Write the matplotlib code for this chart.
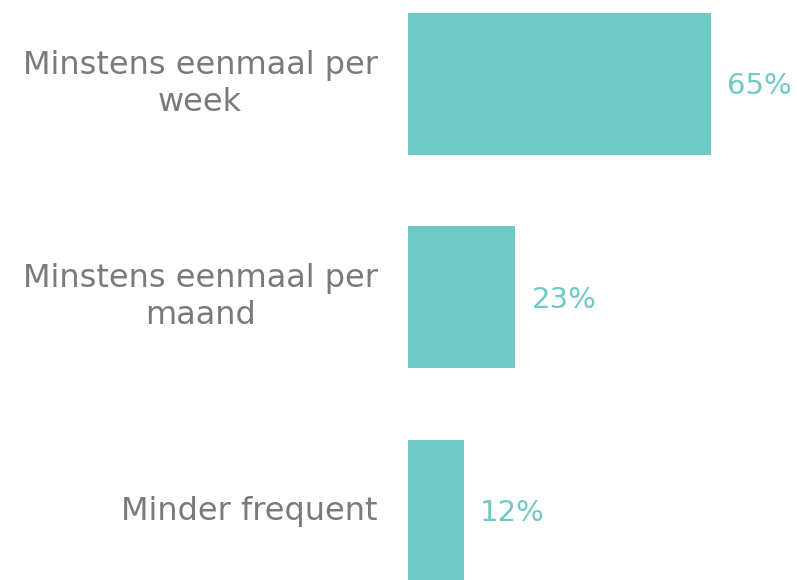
import matplotlib.pyplot as plt

categories = ["Minstens eenmaal per\nweek", "Minstens eenmaal per\nmaand", "Minder frequent"]
values = [65, 23, 12]
value_labels = ["65%", "23%", "12%"]

bar_color = "#6fcac6"
text_color = "#7a7a7a"

plt.rcParams['font.family'] = ['DejaVu Sans']

fig = plt.figure(figsize=(7.97, 5.80), dpi=100)
ax = fig.add_axes([408 / 797, 0, 1 - 408 / 797, 1])

ypos = list(range(len(values)))
ax.barh(ypos, values, height=0.665, color=bar_color)
ax.set_xlim(0, 389 / 4.66)
ax.set_ylim(2.323, -0.393)

for y, v, lab in zip(ypos, values, value_labels):
    ax.text(v + 3.5, y + 0.01, lab, va='center', ha='left', color=bar_color, fontsize=21)

for y, cat in zip(ypos, categories):
    ax.text(-6.5, y, cat, va='center', ha='right', multialignment='center',
            color=text_color, fontsize=23, linespacing=1.25, clip_on=False)

ax.axis('off')
fig.savefig("out.png", dpi=100)
